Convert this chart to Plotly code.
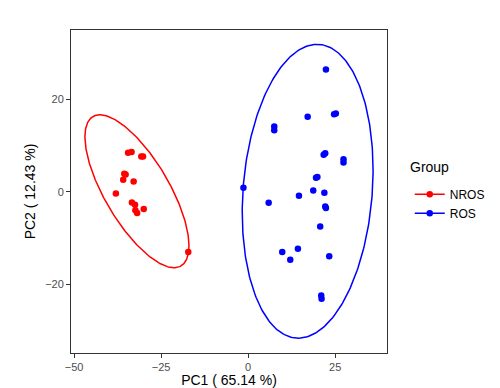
import numpy as np
import plotly.graph_objects as go

# ---- data ----
groups = ["NROS", "ROS"]
colors = {"NROS": "#FF0000", "ROS": "#0000FF"}

nros_pc1 = [-34.5, -33.5, -30.7, -30.2, -35.6, -35.2, -35.9, -32.9, -38.0, -33.4, -32.5, -32.4, -31.9, -30.0, -17.2]
nros_pc2 = [8.4, 8.6, 7.6, 7.6, 3.9, 3.7, 2.6, 2.2, -0.4, -2.3, -2.8, -4.0, -4.6, -3.7, -13.0]

ros_pc1 = [22.35, 17.1, 24.7, 25.2, 7.5, 7.5, 21.7, 22.15, 27.4, 27.4, 19.5, 19.9, -1.35, 5.9, 14.6,
           18.7, 21.9, 22.15, 22.35, 20.7, 9.8, 14.3, 12.1, 23.3, 21.0, 21.1]
ros_pc2 = [26.4, 16.2, 16.7, 16.9, 14.1, 13.25, 8.0, 8.3, 7.0, 6.3, 3.0, 3.2, 0.86, -2.4, -0.86,
           0.28, -0.22, -3.2, -3.5, -7.5, -13.0, -12.3, -14.7, -13.9, -22.4, -23.1]

# 95% confidence ellipses: center and covariance-like shape matrix [[sxx, sxy], [sxy, syy]]
ellipse_center = {"NROS": (-31.95, 0.1), "ROS": (17.1, 0.1)}
ellipse_shape = {"NROS": [[223.5, -175.7], [-175.7, 272.25]],
                 "ROS": [[353.4, 85.6], [85.6, 1004.9]]}

x_title = "PC1 ( 65.14 %)"
y_title = "PC2 ( 12.43 %)"
legend_title = "Group"
x_ticks = [-50, -25, 0, 25]
y_ticks = [-20, 0, 20]

pts = {"NROS": (nros_pc1, nros_pc2), "ROS": (ros_pc1, ros_pc2)}

fig = go.Figure()
t = np.linspace(0, 2 * np.pi, 300)
for g in groups:
    c = colors[g]
    L = np.linalg.cholesky(np.array(ellipse_shape[g]))
    e = L @ np.vstack([np.cos(t), np.sin(t)])
    cx, cy = ellipse_center[g]
    fig.add_trace(go.Scatter(x=e[0] + cx, y=e[1] + cy, mode="lines",
                             line=dict(color=c, width=1.5), showlegend=False, hoverinfo="skip"))
    fig.add_trace(go.Scatter(x=pts[g][0], y=pts[g][1], mode="markers",
                             marker=dict(color=c, size=6.5), showlegend=False))
for g in groups:
    fig.add_trace(go.Scatter(x=[None], y=[None], mode="lines+markers", name=g, legendgroup=g,
                             line=dict(color=colors[g], width=1.5),
                             marker=dict(color=colors[g], size=6.5)))

axis_common = dict(showgrid=False, zeroline=False, showline=True, mirror=True,
                   linecolor="#333333", linewidth=1, ticks="outside", ticklen=4,
                   tickcolor="#333333", tickfont=dict(size=11, color="#4D4D4D"),
                   automargin=False)
# the page body adds an 8px offset; size the figure so the panel lands where it should
fig.update_layout(
    width=492, height=380,
    margin=dict(l=63, r=113, t=22, b=35, autoexpand=False),
    paper_bgcolor="white", plot_bgcolor="white",
    font=dict(family="Liberation Sans, Arial, sans-serif", color="black"),
    xaxis=dict(range=[-50.9, 39.9], tickvals=x_ticks,
               title=dict(text=x_title, font=dict(size=14), standoff=2), **axis_common),
    yaxis=dict(range=[-34.8, 34.9], tickvals=y_ticks,
               title=dict(text=y_title, font=dict(size=14), standoff=6), **axis_common),
    legend=dict(font=dict(size=12), x=1.072, y=0.536, xanchor="left", yanchor="top",
                itemwidth=30, tracegroupgap=0),
    annotations=[dict(text=legend_title, xref="paper", yref="paper", x=1.066, y=0.576,
                      xanchor="left", yanchor="middle", showarrow=False,
                      font=dict(size=14, color="black"))],
    showlegend=True,
)
fig.write_html("out.html")
